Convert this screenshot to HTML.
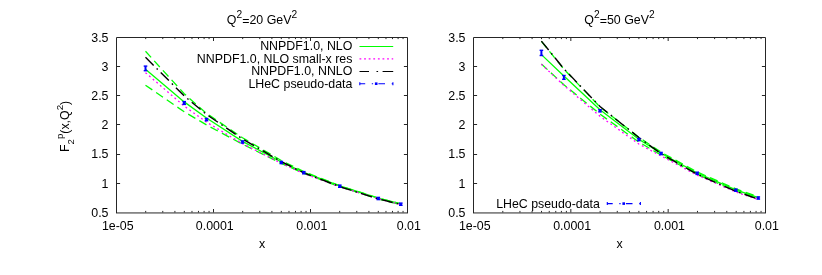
<!DOCTYPE html><html><head><meta charset="utf-8"><style>html,body{margin:0;padding:0;background:#fff}svg{display:block;will-change:transform}</style></head><body><svg width="822" height="275" viewBox="0 0 822 275" font-family="Liberation Sans, sans-serif" font-size="12.4" fill="#000"><rect width="822" height="275" fill="#fff"/><path d="M116.5 213.0V37.5H407.5V213.0M116.0 212.95H408.0" fill="none" stroke="#262626" stroke-width="1"/><path d="M145.70 212.5v-1.6M145.70 37.5v1.6M162.78 212.5v-1.6M162.78 37.5v1.6M174.90 212.5v-1.6M174.90 37.5v1.6M184.30 212.5v-1.6M184.30 37.5v1.6M191.98 212.5v-1.6M191.98 37.5v1.6M198.47 212.5v-1.6M198.47 37.5v1.6M204.10 212.5v-1.6M204.10 37.5v1.6M209.06 212.5v-1.6M209.06 37.5v1.6M213.50 212.5v-3.5M213.50 37.5v3.5M242.70 212.5v-1.6M242.70 37.5v1.6M259.78 212.5v-1.6M259.78 37.5v1.6M271.90 212.5v-1.6M271.90 37.5v1.6M281.30 212.5v-1.6M281.30 37.5v1.6M288.98 212.5v-1.6M288.98 37.5v1.6M295.47 212.5v-1.6M295.47 37.5v1.6M301.10 212.5v-1.6M301.10 37.5v1.6M306.06 212.5v-1.6M306.06 37.5v1.6M310.50 212.5v-3.5M310.50 37.5v3.5M339.70 212.5v-1.6M339.70 37.5v1.6M356.78 212.5v-1.6M356.78 37.5v1.6M368.90 212.5v-1.6M368.90 37.5v1.6M378.30 212.5v-1.6M378.30 37.5v1.6M385.98 212.5v-1.6M385.98 37.5v1.6M392.47 212.5v-1.6M392.47 37.5v1.6M398.10 212.5v-1.6M398.10 37.5v1.6M403.06 212.5v-1.6M403.06 37.5v1.6M116.5 66.50h3.6M407.5 66.50h-3.6M116.5 95.50h3.6M407.5 95.50h-3.6M116.5 124.50h3.6M407.5 124.50h-3.6M116.5 154.50h3.6M407.5 154.50h-3.6M116.5 183.50h3.6M407.5 183.50h-3.6" stroke="#262626" stroke-width="1" fill="none"/><text x="108.5" y="41.80" text-anchor="end">3.5</text><text x="108.5" y="70.97" text-anchor="end">3</text><text x="108.5" y="100.13" text-anchor="end">2.5</text><text x="108.5" y="129.30" text-anchor="end">2</text><text x="108.5" y="158.47" text-anchor="end">1.5</text><text x="108.5" y="187.63" text-anchor="end">1</text><text x="108.5" y="216.80" text-anchor="end">0.5</text><text x="117.80" y="229.6" text-anchor="middle">1e-05</text><text x="214.80" y="229.6" text-anchor="middle">0.0001</text><text x="311.80" y="229.6" text-anchor="middle">0.001</text><text x="408.80" y="229.6" text-anchor="middle">0.01</text><text x="262.00" y="247.5" text-anchor="middle">x</text><path d="M145.5 69.3 L184.2 101.9 L206.5 118.0 L242.5 141.4 L281.3 162.0 L303.8 172.4 L339.8 185.8 L378.3 198.1 L400.8 203.8" stroke="#00ff00" stroke-width="1.3" fill="none"/><path d="M145.5 51.3 L184.2 93.7 L206.5 113.4 L242.5 137.8 L281.3 160.5 L303.8 171.6 L339.8 185.8 L378.3 198.1 L400.8 203.8" stroke="#00ff00" stroke-width="1.3" fill="none" stroke-dasharray="8.3 4.6"/><path d="M145.5 85.2 L184.2 111.8 L206.5 124.9 L242.5 144.2 L281.3 163.3 L303.8 173.3 L339.8 186.8 L378.3 199.0 L400.8 204.6" stroke="#00ff00" stroke-width="1.3" fill="none" stroke-dasharray="8.3 4.6"/><path d="M145.5 72.7 L184.2 106.1 L206.5 122.1 L242.5 143.7 L281.3 163.3 L303.8 173.5 L339.8 186.8 L378.3 198.8 L400.8 204.4" stroke="#ff00ff" stroke-width="1.3" fill="none" stroke-dasharray="1.8 3.0"/><path d="M145.5 57.3 L184.2 95.9 L206.5 114.5 L242.5 138.9 L281.3 161.7 L303.8 172.9 L339.8 186.6 L378.3 198.9 L400.8 204.6" stroke="#000000" stroke-width="1.4" fill="none" stroke-dasharray="11.5 4.2 1.6 4.2"/><rect x="143.70" y="65.40" width="3.6" height="1.4" fill="#0000ff"/><rect x="143.70" y="70.00" width="3.6" height="1.4" fill="#0000ff"/><rect x="144.50" y="66.10" width="2.0" height="4.60" fill="#0000ff"/><rect x="182.40" y="100.90" width="3.6" height="1.4" fill="#0000ff"/><rect x="182.40" y="103.70" width="3.6" height="1.4" fill="#0000ff"/><rect x="182.90" y="101.60" width="2.6" height="2.80" fill="#0000ff"/><rect x="204.70" y="117.80" width="3.6" height="1.4" fill="#0000ff"/><rect x="204.70" y="120.00" width="3.6" height="1.4" fill="#0000ff"/><rect x="205.20" y="118.50" width="2.6" height="2.20" fill="#0000ff"/><rect x="240.70" y="140.20" width="3.6" height="1.4" fill="#0000ff"/><rect x="240.70" y="142.40" width="3.6" height="1.4" fill="#0000ff"/><rect x="241.20" y="140.90" width="2.6" height="2.20" fill="#0000ff"/><rect x="279.50" y="160.70" width="3.6" height="1.4" fill="#0000ff"/><rect x="279.50" y="162.90" width="3.6" height="1.4" fill="#0000ff"/><rect x="280.00" y="161.40" width="2.6" height="2.20" fill="#0000ff"/><rect x="302.00" y="170.90" width="3.6" height="1.4" fill="#0000ff"/><rect x="302.00" y="173.10" width="3.6" height="1.4" fill="#0000ff"/><rect x="302.50" y="171.60" width="2.6" height="2.20" fill="#0000ff"/><rect x="338.00" y="184.40" width="3.6" height="1.4" fill="#0000ff"/><rect x="338.00" y="186.60" width="3.6" height="1.4" fill="#0000ff"/><rect x="338.50" y="185.10" width="2.6" height="2.20" fill="#0000ff"/><rect x="376.50" y="196.70" width="3.6" height="1.4" fill="#0000ff"/><rect x="376.50" y="198.90" width="3.6" height="1.4" fill="#0000ff"/><rect x="377.00" y="197.40" width="2.6" height="2.20" fill="#0000ff"/><rect x="399.00" y="202.40" width="3.6" height="1.4" fill="#0000ff"/><rect x="399.00" y="204.60" width="3.6" height="1.4" fill="#0000ff"/><rect x="399.50" y="203.10" width="2.6" height="2.20" fill="#0000ff"/><text x="262" y="23.7" text-anchor="middle">Q<tspan dy="-5.8" font-size="10.2">2</tspan><tspan dy="7.1">=</tspan><tspan dy="-1.3">20 GeV</tspan><tspan dy="-5.8" font-size="10.2">2</tspan></text><text x="619.5" y="23.7" text-anchor="middle">Q<tspan dy="-5.8" font-size="10.2">2</tspan><tspan dy="7.1">=</tspan><tspan dy="-1.3">50 GeV</tspan><tspan dy="-5.8" font-size="10.2">2</tspan></text><text x="352.4" y="50.4" text-anchor="end">NNPDF1.0, NLO</text><text x="352.4" y="62.8" text-anchor="end">NNPDF1.0, NLO small-x res</text><text x="352.4" y="75.4" text-anchor="end">NNPDF1.0, NNLO</text><text x="352.4" y="87.6" text-anchor="end">LHeC pseudo-data</text><path d="M359.5 46.5H393.2" stroke="#00ff00" stroke-width="1.2"/><path d="M359.5 58.9H393.2" stroke="#ff00ff" stroke-width="1.2" stroke-dasharray="1.8 2.8"/><path d="M359.5 71.5H369M376.5 71.5h1.6M382.6 71.5H393.2" stroke="#000000" stroke-width="1.1"/><path d="M359.5 83.7h5.7M371.8 83.7h1.3M378.4 83.7h6.6M391.7 83.7h1.5M359.8 82.2v3M392.9 82.2v3" stroke="#0000ff" stroke-width="1.1" fill="none"/><rect x="374.9" y="82.4" width="2.6" height="2.6" fill="#0000ff"/><text transform="translate(69.2,152.0) rotate(-90)">F<tspan dy="5.0" font-size="9.6">2</tspan><tspan dy="-10.8" font-size="9.6">p</tspan><tspan dy="5.8">(x,Q</tspan><tspan dy="-5.8" font-size="9.8">2</tspan><tspan dy="5.8">)</tspan></text><path d="M473.5 213.0V37.5H765.5V213.0M473.0 212.95H766.0" fill="none" stroke="#262626" stroke-width="1"/><path d="M502.80 212.5v-1.6M502.80 37.5v1.6M519.94 212.5v-1.6M519.94 37.5v1.6M532.10 212.5v-1.6M532.10 37.5v1.6M541.53 212.5v-1.6M541.53 37.5v1.6M549.24 212.5v-1.6M549.24 37.5v1.6M555.76 212.5v-1.6M555.76 37.5v1.6M561.40 212.5v-1.6M561.40 37.5v1.6M566.38 212.5v-1.6M566.38 37.5v1.6M570.83 212.5v-3.5M570.83 37.5v3.5M600.13 212.5v-1.6M600.13 37.5v1.6M617.27 212.5v-1.6M617.27 37.5v1.6M629.43 212.5v-1.6M629.43 37.5v1.6M638.87 212.5v-1.6M638.87 37.5v1.6M646.57 212.5v-1.6M646.57 37.5v1.6M653.09 212.5v-1.6M653.09 37.5v1.6M658.73 212.5v-1.6M658.73 37.5v1.6M663.71 212.5v-1.6M663.71 37.5v1.6M668.17 212.5v-3.5M668.17 37.5v3.5M697.47 212.5v-1.6M697.47 37.5v1.6M714.61 212.5v-1.6M714.61 37.5v1.6M726.77 212.5v-1.6M726.77 37.5v1.6M736.20 212.5v-1.6M736.20 37.5v1.6M743.91 212.5v-1.6M743.91 37.5v1.6M750.42 212.5v-1.6M750.42 37.5v1.6M756.07 212.5v-1.6M756.07 37.5v1.6M761.05 212.5v-1.6M761.05 37.5v1.6M473.5 66.50h3.6M765.5 66.50h-3.6M473.5 95.50h3.6M765.5 95.50h-3.6M473.5 124.50h3.6M765.5 124.50h-3.6M473.5 154.50h3.6M765.5 154.50h-3.6M473.5 183.50h3.6M765.5 183.50h-3.6" stroke="#262626" stroke-width="1" fill="none"/><text x="465.5" y="41.80" text-anchor="end">3.5</text><text x="465.5" y="70.97" text-anchor="end">3</text><text x="465.5" y="100.13" text-anchor="end">2.5</text><text x="465.5" y="129.30" text-anchor="end">2</text><text x="465.5" y="158.47" text-anchor="end">1.5</text><text x="465.5" y="187.63" text-anchor="end">1</text><text x="465.5" y="216.80" text-anchor="end">0.5</text><text x="474.80" y="229.6" text-anchor="middle">1e-05</text><text x="572.13" y="229.6" text-anchor="middle">0.0001</text><text x="669.47" y="229.6" text-anchor="middle">0.001</text><text x="766.80" y="229.6" text-anchor="middle">0.01</text><text x="619.50" y="247.5" text-anchor="middle">x</text><path d="M541.4 54.6 L563.9 76.0 L600.0 109.7 L638.8 139.3 L661.0 153.2 L697.2 173.0 L735.9 189.9 L758.3 197.7" stroke="#00ff00" stroke-width="1.3" fill="none"/><path d="M541.4 41.3 L563.9 69.2 L600.0 106.9 L638.8 137.2 L661.0 152.2 L697.2 172.0 L735.9 188.9 L758.3 196.7" stroke="#00ff00" stroke-width="1.3" fill="none" stroke-dasharray="8.3 4.6"/><path d="M541.4 64.0 L563.9 84.7 L600.0 114.1 L638.8 142.0 L661.0 155.0 L697.2 174.3 L735.9 191.2 L758.3 199.0" stroke="#00ff00" stroke-width="1.3" fill="none" stroke-dasharray="8.3 4.6"/><path d="M541.4 64.3 L563.9 85.3 L600.0 116.3 L638.8 144.0 L661.0 155.9 L697.2 175.2 L735.9 192.0 L758.3 199.6" stroke="#ff00ff" stroke-width="1.3" fill="none" stroke-dasharray="1.8 3.0"/><path d="M541.4 41.1 L563.9 68.8 L600.0 106.5 L638.8 137.5 L661.0 153.6 L697.2 174.3 L735.9 191.3 L758.3 199.1" stroke="#000000" stroke-width="1.4" fill="none" stroke-dasharray="11.5 4.2 1.6 4.2"/><rect x="539.60" y="49.60" width="3.6" height="1.4" fill="#0000ff"/><rect x="539.60" y="54.80" width="3.6" height="1.4" fill="#0000ff"/><rect x="540.40" y="50.30" width="2.0" height="5.20" fill="#0000ff"/><rect x="562.10" y="74.80" width="3.6" height="1.4" fill="#0000ff"/><rect x="562.10" y="78.60" width="3.6" height="1.4" fill="#0000ff"/><rect x="562.90" y="75.50" width="2.0" height="3.80" fill="#0000ff"/><rect x="598.20" y="109.00" width="3.6" height="1.4" fill="#0000ff"/><rect x="598.20" y="111.20" width="3.6" height="1.4" fill="#0000ff"/><rect x="598.70" y="109.70" width="2.6" height="2.20" fill="#0000ff"/><rect x="637.00" y="137.80" width="3.6" height="1.4" fill="#0000ff"/><rect x="637.00" y="140.00" width="3.6" height="1.4" fill="#0000ff"/><rect x="637.50" y="138.50" width="2.6" height="2.20" fill="#0000ff"/><rect x="659.20" y="151.70" width="3.6" height="1.4" fill="#0000ff"/><rect x="659.20" y="153.90" width="3.6" height="1.4" fill="#0000ff"/><rect x="659.70" y="152.40" width="2.6" height="2.20" fill="#0000ff"/><rect x="695.40" y="171.50" width="3.6" height="1.4" fill="#0000ff"/><rect x="695.40" y="173.70" width="3.6" height="1.4" fill="#0000ff"/><rect x="695.90" y="172.20" width="2.6" height="2.20" fill="#0000ff"/><rect x="734.10" y="188.40" width="3.6" height="1.4" fill="#0000ff"/><rect x="734.10" y="190.60" width="3.6" height="1.4" fill="#0000ff"/><rect x="734.60" y="189.10" width="2.6" height="2.20" fill="#0000ff"/><rect x="756.50" y="196.20" width="3.6" height="1.4" fill="#0000ff"/><rect x="756.50" y="198.40" width="3.6" height="1.4" fill="#0000ff"/><rect x="757.00" y="196.90" width="2.6" height="2.20" fill="#0000ff"/><text x="496.2" y="208.1" font-size="12.35">LHeC pseudo-data</text><path d="M607 203.6h5.7M619.3 203.6h1.3M625.9 203.6h6.6M639.2 203.6h1.5M607.3 202.1v3M640.4 202.1v3" stroke="#0000ff" stroke-width="1.1" fill="none"/><rect x="622.4" y="202.29999999999998" width="2.6" height="2.6" fill="#0000ff"/></svg></body></html>
